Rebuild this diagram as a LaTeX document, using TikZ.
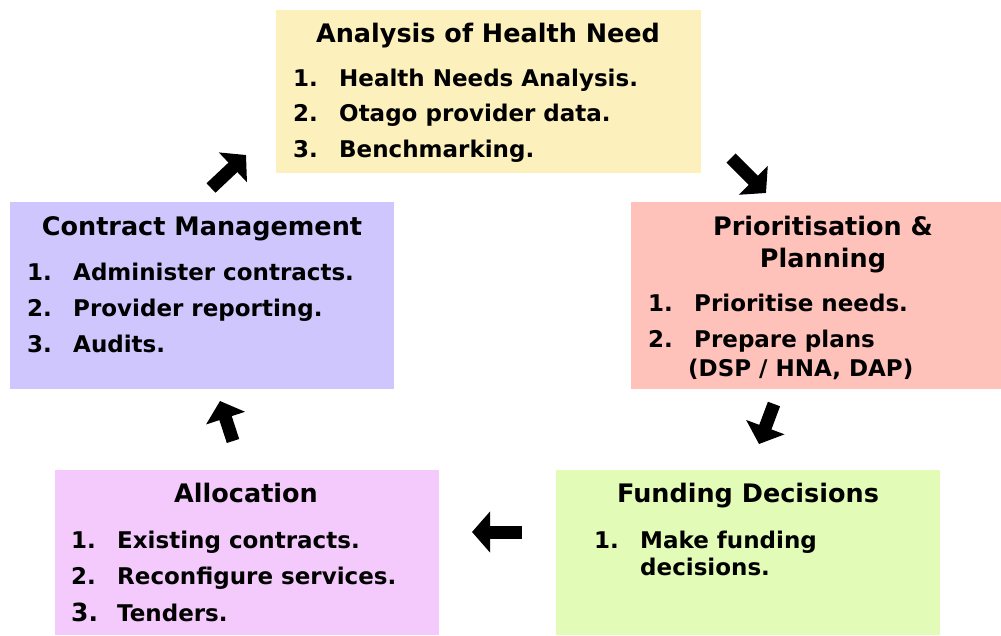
\documentclass[tikz,border=0pt]{standalone}
\usepackage{fontspec}
\setmainfont{DejaVu Sans}
\usetikzlibrary{arrows.meta}

\definecolor{needfill}{RGB}{252,240,188}
\definecolor{planfill}{RGB}{255,194,186}
\definecolor{fundfill}{RGB}{226,252,184}
\definecolor{allocfill}{RGB}{244,202,252}
\definecolor{contractfill}{RGB}{206,198,252}

\tikzset{
  stage/.style={rectangle,draw=none,inner sep=0pt},
  heading/.style={font=\fontsize{25.5}{30}\selectfont\bfseries,anchor=mid,inner sep=0pt},
  item/.style={font=\fontsize{23}{28}\selectfont\bfseries,anchor=mid west,inner sep=0pt},
  cycle/.style={line width=13pt,-{Triangle[width=40pt,length=18pt]}}
}
\newcommand{\itm}[2]{\makebox[46pt][l]{#1}#2}

\begin{document}
\begin{tikzpicture}[x=1pt,y=-1pt]
\useasboundingbox (0,0) rectangle (1001,635);

% the five stages
\node[stage,fill=needfill,minimum width=425,minimum height=163] (need) at (488.5,91.5) {};
\node[stage,fill=planfill,minimum width=370,minimum height=187] (plan) at (816,295.5) {};
\node[stage,fill=fundfill,minimum width=384,minimum height=165] (fund) at (748,552.5) {};
\node[stage,fill=allocfill,minimum width=384,minimum height=165] (alloc) at (247,552.5) {};
\node[stage,fill=contractfill,minimum width=384,minimum height=187] (contract) at (202,295.5) {};

% analysis
\node[heading] (needT) at (488,40) {Analysis of Health Need};
\node[item] (need1) at (293,84) {\itm{1.}{Health Needs Analysis.}};
\node[item] (need2) at (293,119) {\itm{2.}{Otago provider data.}};
\node[item] (need3) at (293,155) {\itm{3.}{Benchmarking.}};

% prioritisation
\node[heading] (planT) at (823,233) {Prioritisation \&};
\node[heading] (planT2) at (823,265) {Planning};
\node[item] (plan1) at (648,309) {\itm{1.}{Prioritise needs.}};
\node[item] (plan2) at (648,345) {\itm{2.}{Prepare plans}};
\node[item] (plan3) at (688,374) {(DSP / HNA, DAP)};

% funding
\node[heading] (fundT) at (748,500) {Funding Decisions};
\node[item] (fund1) at (594,546) {\itm{1.}{Make funding}};
\node[item] (fund2) at (640,573) {decisions.};

% allocation
\node[heading] (allocT) at (246,500) {Allocation};
\node[item] (alloc1) at (71,546) {\itm{1.}{Existing contracts.}};
\node[item] (alloc2) at (71,582) {\itm{2.}{Reconfigure services.}};
\node[item] (alloc3) at (71,619) {\itm{\fontsize{25}{30}\selectfont 3.}{Tenders.}};

% contract management
\node[heading] (contractT) at (202,233) {Contract Management};
\node[item] (contract1) at (27,278) {\itm{1.}{Administer contracts.}};
\node[item] (contract2) at (27,314) {\itm{2.}{Provider reporting.}};
\node[item] (contract3) at (27,350) {\itm{3.}{Audits.}};

% arrows round the cycle
\coordinate (a1s) at (211,188);  \coordinate (a1e) at (246,155);
\coordinate (a2s) at (731,158);  \coordinate (a2e) at (766,193);
\coordinate (a3s) at (774,404);  \coordinate (a3e) at (759,444);
\coordinate (a4s) at (522,532);  \coordinate (a4e) at (472,532);
\coordinate (a5s) at (233,441);  \coordinate (a5e) at (220,401);
\draw[cycle] (a1s) -- (a1e);
\draw[cycle] (a2s) -- (a2e);
\draw[cycle] (a3s) -- (a3e);
\draw[cycle] (a4s) -- (a4e);
\draw[cycle] (a5s) -- (a5e);
\end{tikzpicture}
\end{document}
